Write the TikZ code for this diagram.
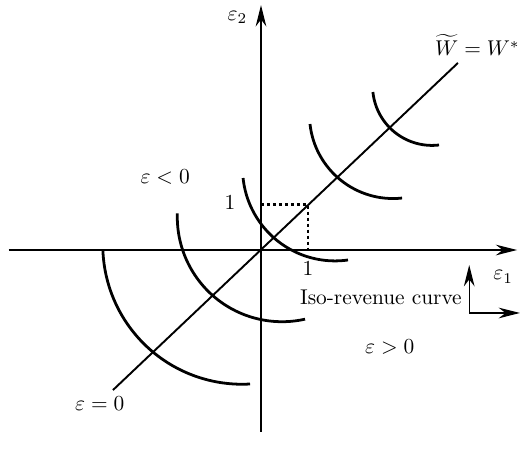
\documentclass[tikz,border=0pt]{standalone}
\usepackage{amsmath, amssymb}
\usepackage{xcolor}
\usepackage{tikz}
\usetikzlibrary{arrows.meta}

\begin{document}
\begin{tikzpicture}[x=22pt, y=22pt,
        axis/.style={line width=0.6pt, -{Stealth[length=10pt, width=5pt]}},
        isocurve/.style={line width=1.3pt},
        guide/.style={line width=1.3pt, dash pattern=on 1.6pt off 1.2pt}]
        \useasboundingbox (-5.553,-4.468) rectangle (5.574,5.319);

        % axes
        \coordinate (xl) at (-5.37,0);
        \coordinate (xr) at (5.45,0);
        \coordinate (yb) at (0,-3.87);
        \coordinate (yt) at (0,5.21);
        \draw[axis] (xl) -- (xr);
        \draw[axis] (yb) -- (yt);
        \node (e1) at (5.15,-0.57) {$\varepsilon_{1}$};
        \node (e2) at (-0.5,4.95) {$\varepsilon_{2}$};

        % diagonal W~ = W*
        \coordinate (dl) at (-3.15,-2.98);
        \coordinate (du) at (4.19,3.98);
        \draw[line width=0.9pt] (dl) -- (du);
        \node[anchor=east, inner sep=1pt] (wlab) at (5.56,4.36) {$\widetilde{W}=W^{*}$};

        % unit square
        \coordinate (py) at (0,0.96);
        \coordinate (pc) at (1,0.96);
        \coordinate (px) at (1,0);
        \draw[guide] (py) -- (pc) -- (px);
        \node (oney) at (-0.66,1.02) {1};
        \node (onex) at (1.0,-0.40) {1};

        % iso-revenue curves
        \draw[isocurve] (-0.404,0.106) ++(182.05:2.962) arc[start angle=182.05, end angle=273.3, radius=2.962];
        \draw[isocurve] (0.447,0.702) ++(178:2.228) arc[start angle=178, end angle=282.7, radius=2.228];
        \draw[isocurve] (1.574,1.734) ++(185.9:1.966) arc[start angle=185.9, end angle=278.1, radius=1.966];
        \draw[isocurve] (2.809,2.872) ++(186.2:1.777) arc[start angle=186.2, end angle=276.2, radius=1.777];
        \draw[isocurve] (3.638,3.489) ++(185.8:1.264) arc[start angle=185.8, end angle=276.8, radius=1.264];

        \node (neg) at (-2.04,1.55) {$\varepsilon < 0$};
        \node (pos) at (2.74,-2.06) {$\varepsilon > 0$};
        \node (zero) at (-3.43,-3.26) {$\varepsilon = 0$};
        \node (isolab) at (2.55,-1.0) {Iso-revenue curve};

        % small direction sign
        \coordinate (ic) at (4.43,-1.34);
        \coordinate (icx) at (5.51,-1.34);
        \coordinate (icy) at (4.43,-0.32);
        \draw[axis] (ic) -- (icy);
        \draw[axis] (ic) -- (icx);
    \end{tikzpicture}
\end{document}
